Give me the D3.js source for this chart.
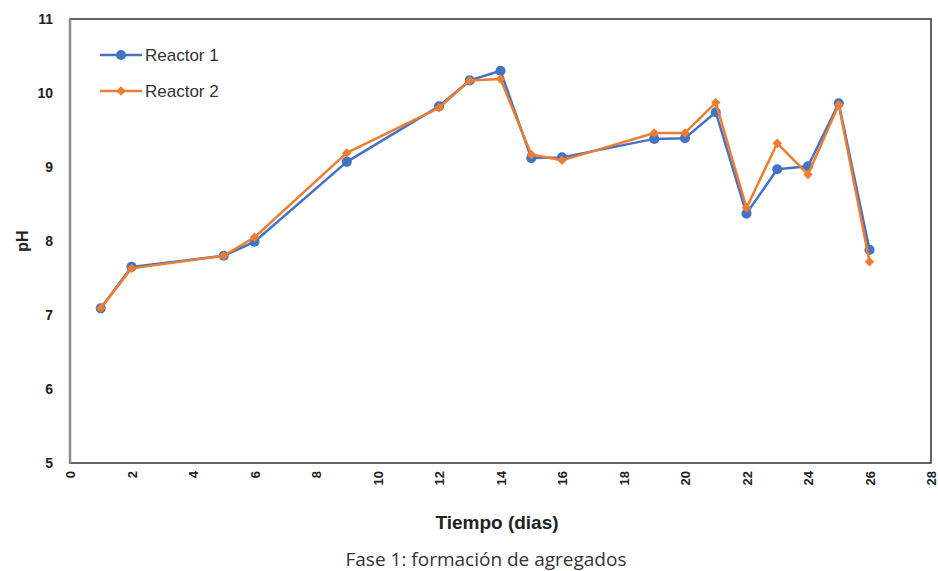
<!DOCTYPE html>
<html lang="es">
<head>
  <meta charset="UTF-8">
  <title>pH Reactores</title>
  <script src="https://d3js.org/d3.v7.min.js"></script>
  <style>
    body { margin: 0; background: #fff; }
    svg { display: block; }
  </style>
</head>
<body>
  <div class="chart"></div>
  <script>
    const dias = [1, 2, 5, 6, 9, 12, 13, 14, 15, 16, 19, 20, 21, 22, 23, 24, 25, 26];
    const reactor1 = [7.09, 7.65, 7.80, 7.99, 9.07, 9.82, 10.17, 10.30, 9.12, 9.13, 9.38, 9.39, 9.74, 8.37, 8.97, 9.01, 9.86, 7.88];
    const reactor2 = [7.09, 7.63, 7.80, 8.05, 9.19, 9.80, 10.17, 10.19, 9.17, 9.09, 9.46, 9.46, 9.87, 8.45, 9.32, 8.90, 9.84, 7.72];
    const xTicks = [0, 2, 4, 6, 8, 10, 12, 14, 16, 18, 20, 22, 24, 26, 28];
    const yTicks = [5, 6, 7, 8, 9, 10, 11];

    const W = 938, H = 571;
    const margin = { top: 19, right: 7, bottom: 108, left: 70 };
    const width = W - margin.left - margin.right;
    const height = H - margin.top - margin.bottom;

    const svg = d3.select('.chart').append('svg').attr('width', W).attr('height', H);
    const g = svg.append('g').attr('transform', `translate(${margin.left},${margin.top})`);

    const x = d3.scaleLinear().domain([0, 28]).range([0, width]);
    const y = d3.scaleLinear().domain([5, 11]).range([height, 0]);

    // frame
    g.append('rect').attr('width', width).attr('height', height)
      .attr('fill', 'none').attr('stroke', '#333').attr('stroke-width', 1.5);
    g.append('line').attr('x1', 0).attr('x2', 0).attr('y1', 0).attr('y2', height)
      .attr('stroke', '#8c8c8c').attr('stroke-width', 2.5);

    const font = 'Liberation Sans, Arial, sans-serif';

    const xAxis = g.append('g').attr('transform', `translate(0,${height})`)
      .call(d3.axisBottom(x).tickValues(xTicks).tickFormat(d3.format('d')).tickSize(0).tickPadding(0));
    xAxis.select('.domain').remove();
    xAxis.selectAll('text')
      .attr('transform', 'rotate(-90)')
      .attr('x', -8).attr('y', 0).attr('dy', '0.35em')
      .attr('text-anchor', 'end')
      .attr('font-family', font).attr('font-size', 13).attr('font-weight', 'bold').attr('fill', '#222');

    const yAxis = g.append('g')
      .call(d3.axisLeft(y).tickValues(yTicks).tickFormat(d3.format('d')).tickSize(0).tickPadding(17));
    yAxis.select('.domain').remove();
    yAxis.selectAll('text')
      .attr('font-family', font).attr('font-size', 14).attr('font-weight', 'bold').attr('fill', '#222');

    const series = [
      { name: 'Reactor 1', values: reactor1, color: '#4472C4', symbol: d3.symbolCircle, size: 80, rot: 0 },
      { name: 'Reactor 2', values: reactor2, color: '#ED7D31', symbol: d3.symbolSquare, size: 45, rot: 45 }
    ];

    const line = d3.line().x(d => x(d[0])).y(d => y(d[1]));

    series.forEach(s => {
      const pts = dias.map((d, i) => [d, s.values[i]]);
      g.append('path').datum(pts).attr('d', line)
        .attr('fill', 'none').attr('stroke', s.color).attr('stroke-width', 2.5)
        .attr('stroke-linejoin', 'round');
      g.selectAll(null).data(pts).enter().append('path')
        .attr('d', d3.symbol().type(s.symbol).size(s.size))
        .attr('transform', d => `translate(${x(d[0])},${y(d[1])}) rotate(${s.rot})`)
        .attr('fill', s.color);
    });

    // legend
    const legend = svg.append('g').attr('transform', 'translate(100,55)');
    series.forEach((s, i) => {
      const lg = legend.append('g').attr('transform', `translate(0,${i * 36})`);
      lg.append('line').attr('x1', 0).attr('x2', 42).attr('stroke', s.color).attr('stroke-width', 2.5);
      lg.append('path').attr('d', d3.symbol().type(s.symbol).size(s.size))
        .attr('transform', `translate(21,0) rotate(${s.rot})`).attr('fill', s.color);
      lg.append('text').attr('x', 45).attr('dy', '0.35em')
        .attr('font-family', font).attr('font-size', 17).attr('fill', '#333').text(s.name);
    });

    // axis titles
    svg.append('text').attr('x', 497).attr('y', 529)
      .attr('text-anchor', 'middle').attr('font-family', font).attr('font-size', 19)
      .attr('font-weight', 'bold').attr('fill', '#222').text('Tiempo (dias)');

    svg.append('text').attr('transform', 'rotate(-90)').attr('x', -241).attr('y', 28)
      .attr('text-anchor', 'middle').attr('font-family', font).attr('font-size', 16)
      .attr('font-weight', 'bold').attr('fill', '#222').text('pH');

    svg.append('text').attr('x', 486).attr('y', 566)
      .attr('text-anchor', 'middle').attr('font-family', 'Open Sans, sans-serif').attr('font-size', 19)
      .attr('fill', '#333').text('Fase 1: formación de agregados');
  </script>
</body>
</html>
